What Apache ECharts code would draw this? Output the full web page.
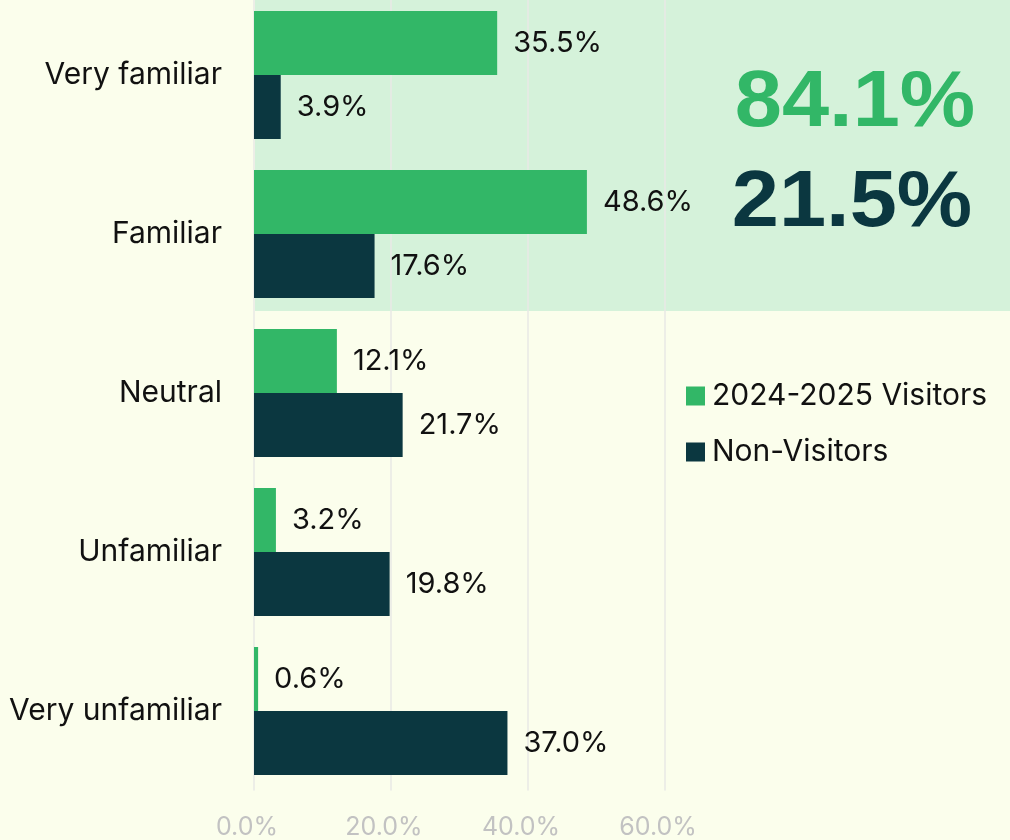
<!DOCTYPE html>
<html>
<head>
<meta charset="utf-8">
<script src="https://cdn.jsdelivr.net/npm/echarts@6/dist/echarts.min.js"></script>
<style>
html,body{margin:0;padding:0;background:#fbfeec;overflow:hidden;}
#chart{width:1010px;height:850px;margin-top:-10px;}
</style>
</head>
<body>
<div id="chart"></div>
<script>
const categories = ['Very familiar', 'Familiar', 'Neutral', 'Unfamiliar', 'Very unfamiliar'];
const visitors = [35.5, 48.6, 12.1, 3.2, 0.6];
const nonVisitors = [3.9, 17.6, 21.7, 19.8, 37.0];
const seriesNames = ['2024-2025 Visitors', 'Non-Visitors'];
const xTicks = [0, 20, 40, 60];
const highlightValues = ['84.1%', '21.5%'];

const GREEN = '#32b767';
const DARK = '#0b3740';
const FONT = 'Inter';
const OFF = 10; // container shifted up by this many px

const chart = echarts.init(document.getElementById('chart'));
const option = {
  backgroundColor: '#fbfeec',
  animation: false,
  textStyle: { fontFamily: FONT },
  grid: { left: 254, width: 411, top: OFF - 4.5, height: 795, containLabel: false },
  legend: {
    orient: 'vertical',
    left: 681,
    top: 376 + OFF,
    itemWidth: 19,
    itemHeight: 19,
    itemGap: 26,
    icon: 'rect',
    data: seriesNames,
    textStyle: { fontFamily: FONT, fontSize: 30, color: '#111', padding: [0, 0, 0, 2] }
  },
  xAxis: {
    type: 'value',
    min: xTicks[0],
    max: xTicks[xTicks.length - 1],
    interval: 20,
    axisLine: { show: false },
    axisTick: { show: false },
    splitLine: { lineStyle: { color: '#e8e8e6', width: 1.5 } },
    axisLabel: {
      formatter: v => v.toFixed(1) + '%',
      color: '#c2c2c2',
      fontSize: 25,
      fontFamily: FONT,
      margin: 24,
      padding: [0, 14, 0, 0]
    }
  },
  yAxis: {
    type: 'category',
    inverse: true,
    data: categories,
    axisLine: { show: false },
    axisTick: { show: false },
    axisLabel: { color: '#111', fontSize: 30, fontFamily: FONT, margin: 32 }
  },
  graphic: [
    { type: 'rect', z: -10, silent: true, shape: { x: 255, y: OFF, width: 755, height: 311 }, style: { fill: '#d5f2da' } },
    { type: 'text', z: 10, x: 855, y: 104 + OFF, scaleX: 1.06, style: { text: highlightValues[0], fill: GREEN, font: '900 80px "Liberation Sans"', textAlign: 'center', textVerticalAlign: 'middle' } },
    { type: 'text', z: 10, x: 852, y: 204 + OFF, scaleX: 1.06, style: { text: highlightValues[1], fill: DARK, font: '900 80px "Liberation Sans"', textAlign: 'center', textVerticalAlign: 'middle' } }
  ],
  series: [
    {
      name: seriesNames[0], type: 'bar', data: visitors,
      barGap: '0%', barWidth: 64,
      itemStyle: { color: GREEN },
      label: { show: true, position: 'right', distance: 16, formatter: p => p.value.toFixed(1) + '%', color: '#111', fontSize: 29, fontFamily: FONT }
    },
    {
      name: seriesNames[1], type: 'bar', data: nonVisitors,
      barGap: '0%', barWidth: 64,
      itemStyle: { color: DARK },
      label: { show: true, position: 'right', distance: 16, formatter: p => p.value.toFixed(1) + '%', color: '#111', fontSize: 29, fontFamily: FONT }
    }
  ]
};
chart.setOption(option);
</script>
</body>
</html>
